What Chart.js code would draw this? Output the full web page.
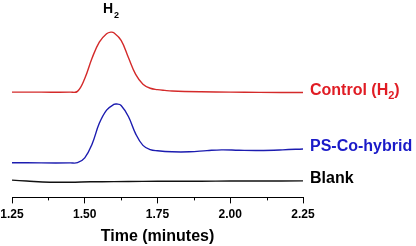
<!DOCTYPE html>
<html>
<head>
<meta charset="utf-8">
<script src="https://cdn.jsdelivr.net/npm/chart.js@4/dist/chart.umd.min.js"></script>
<style>
  html, body { margin: 0; padding: 0; background: #fff; }
  #wrap { width: 416px; height: 246px; }
</style>
</head>
<body>
<div id="wrap"><canvas id="gcChart"></canvas></div>
<script>
/* chromatogram traces (signal in arbitrary units) */
const redTime   = [1.25, 1.35, 1.45, 1.475, 1.50, 1.525, 1.55, 1.575, 1.59, 1.60, 1.625, 1.65, 1.675, 1.70, 1.725, 1.75, 1.775, 1.80, 1.90, 2.00, 2.10, 2.25];
const redSignal = [54, 54, 54, 54.4, 61, 71.4, 79.7, 84, 84.8, 84.5, 80.6, 71.8, 63.1, 58.1, 56, 55.3, 54.9, 54.6, 54.2, 54, 53.9, 53.8];

const blueTime   = [1.25, 1.35, 1.45, 1.475, 1.50, 1.525, 1.55, 1.575, 1.60, 1.61, 1.625, 1.65, 1.675, 1.70, 1.725, 1.75, 1.80, 1.86, 1.92, 1.97, 2.03, 2.10, 2.18, 2.25];
const blueSignal = [17.8, 17.7, 17.7, 17.8, 20.3, 27.3, 38, 44.8, 47.7, 47.9, 47.2, 41.5, 32.6, 26.7, 24.5, 23.9, 23.4, 23.4, 24, 24.4, 24.2, 24.1, 24.4, 24.85];

const blankTime   = [1.25, 1.30, 1.38, 1.45, 1.52, 1.60, 1.70, 1.80, 1.90, 2.00, 2.10, 2.25];
const blankSignal = [8.85, 8.4, 7.8, 7.8, 8.0, 8.1, 8.2, 8.3, 8.3, 8.4, 8.4, 8.5];

const seriesNames = ['Control (H\u2082)', 'PS-Co-hybrid', 'Blank'];
const xTicks = [1.25, 1.50, 1.75, 2.00, 2.25];
const minorTicks = [1.375, 1.625, 1.875, 2.125];

function toPoints(t, v) {
  return t.map(function(x, i) { return {x: x, y: v[i]}; });
}

const FONT = '"Liberation Sans", Arial, sans-serif';
const colors = ['#d42a2a', '#1c1cb0', '#111111'];
const textColors = ['#e01c24', '#1a1ac8', '#000000'];

/* labels at the end of each trace, peak name, minor ticks */
const decorations = {
  id: 'decorations',
  afterDraw(chart) {
    const ctx = chart.ctx;
    const xs = chart.scales.x;
    const ys = chart.scales.y;
    ctx.save();

    // minor ticks
    ctx.strokeStyle = '#000';
    ctx.lineWidth = 1;
    minorTicks.forEach(function(t) {
      const px = Math.round(xs.getPixelForValue(t)) + 0.5;
      ctx.beginPath();
      ctx.moveTo(px, xs.top);
      ctx.lineTo(px, xs.top + 3);
      ctx.stroke();
    });

    // series labels
    ctx.font = 'bold 16px ' + FONT;
    ctx.textBaseline = 'middle';
    ctx.textAlign = 'left';
    chart.data.datasets.forEach(function(ds, i) {
      const last = ds.data[ds.data.length - 1];
      const px = xs.right + 7;
      const py = ys.getPixelForValue(last.y) - 2;
      ctx.fillStyle = textColors[i];
      if (i === 0) {
        const main = 'Control (H';
        ctx.fillText(main, px, py);
        let w = ctx.measureText(main).width;
        ctx.font = 'bold 11px ' + FONT;
        ctx.fillText('2', px + w, py + 5);
        w += ctx.measureText('2').width;
        ctx.font = 'bold 16px ' + FONT;
        ctx.fillText(')', px + w, py);
      } else {
        ctx.fillText(seriesNames[i], px, py);
      }
    });

    // peak label above the control peak
    const red = chart.data.datasets[0].data;
    let top = red[0];
    red.forEach(function(p) { if (p.y > top.y) top = p; });
    const hx = xs.getPixelForValue(top.x) - 8;
    ctx.fillStyle = '#000';
    ctx.font = 'bold 14px ' + FONT;
    ctx.fillText('H', hx, 9);
    const hw = ctx.measureText('H').width;
    ctx.font = 'bold 9px ' + FONT;
    ctx.fillText('2', hx + hw + 1, 16);

    ctx.restore();
  }
};

const data = {
  datasets: [
    { label: seriesNames[0], data: toPoints(redTime, redSignal), borderColor: colors[0] },
    { label: seriesNames[1], data: toPoints(blueTime, blueSignal), borderColor: colors[1] },
    { label: seriesNames[2], data: toPoints(blankTime, blankSignal), borderColor: colors[2] }
  ]
};

const config = {
  type: 'line',
  data: data,
  options: {
    responsive: true,
    maintainAspectRatio: false,
    animation: false,
    layout: { padding: { left: 12, right: 113, top: 22, bottom: 0 } },
    elements: {
      point: { radius: 0 },
      line: { borderWidth: 1.4, tension: 0.4, fill: false }
    },
    plugins: {
      legend: { display: false },
      tooltip: { enabled: false }
    },
    scales: {
      x: {
        type: 'linear',
        min: 1.25,
        max: 2.25,
        afterBuildTicks: function(axis) {
          axis.ticks = xTicks.map(function(v) { return {value: v}; });
        },
        afterFit: function(axis) {
          // keep the plot edge where the picture has it, labels may overhang
          axis.paddingLeft = 0;
          axis.paddingRight = 0;
        },
        ticks: {
          color: '#000',
          padding: 4,
          maxRotation: 0,
          font: { family: FONT, size: 12, weight: 'bold' },
          callback: function(v) { return Number(v).toFixed(2); }
        },
        grid: { display: true, drawOnChartArea: false, drawTicks: true, tickLength: 6, color: '#000' },
        border: { display: true, color: '#000', width: 1 },
        title: {
          display: true,
          text: 'Time (minutes)',
          color: '#000',
          padding: { top: 1, bottom: 0 },
          font: { family: FONT, size: 16, weight: 'bold' }
        }
      },
      y: {
        display: false,
        min: 0,
        max: 90
      }
    }
  },
  plugins: [decorations]
};

const gcChart = new Chart(document.getElementById('gcChart'), config);
</script>
</body>
</html>
